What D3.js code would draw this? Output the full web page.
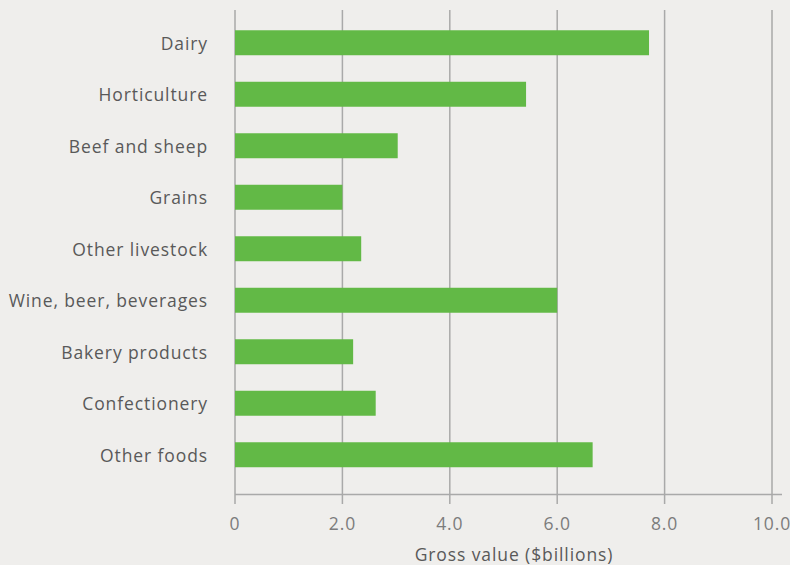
<!DOCTYPE html>
<html><head><meta charset="utf-8">
<script src="https://cdn.jsdelivr.net/npm/d3@7"></script>
<style>
html,body{margin:0;padding:0;background:#efeeec;}
svg{display:block;}
</style></head>
<body>
<svg id="chart" width="790" height="565"></svg>
<script>
const categories = ["Dairy","Horticulture","Beef and sheep","Grains","Other livestock","Wine, beer, beverages","Bakery products","Confectionery","Other foods"];
const values = [7.71, 5.42, 3.03, 2.0, 2.35, 6.0, 2.2, 2.62, 6.66];
const tickValues = [0, 2, 4, 6, 8, 10];
const tickLabels = ["0", "2.0", "4.0", "6.0", "8.0", "10.0"];
const axisTitle = "Gross value ($billions)";

const svg = d3.select("#chart");
const font = "'Open Sans', sans-serif";
const textColor = "#595959";
const x = d3.scaleLinear().domain([0, 10]).range([235, 772]);
const y = d3.scaleBand().domain(categories).range([17, 480.5]).paddingInner(0.515).paddingOuter(0.2575);

svg.append("rect").attr("width", 790).attr("height", 565).attr("fill", "#efeeec");

svg.append("g").selectAll("line").data(tickValues).join("line")
  .attr("x1", d => x(d)).attr("x2", d => x(d))
  .attr("y1", 10).attr("y2", 504)
  .attr("stroke", "#a9a9a9").attr("stroke-width", 1.5);

svg.append("line").attr("x1", x(0)).attr("x2", 782).attr("y1", 494.5).attr("y2", 494.5)
  .attr("stroke", "#a9a9a9").attr("stroke-width", 1.5);

svg.append("g").selectAll("rect").data(categories).join("rect")
  .attr("x", x(0)).attr("y", d => y(d))
  .attr("width", (d, i) => x(values[i]) - x(0))
  .attr("height", y.bandwidth())
  .attr("fill", "#62b946");

function styleText(sel) {
  return sel.attr("font-family", font).attr("font-size", 17.5).attr("font-weight", 400)
    .attr("letter-spacing", "0.9px");
}

styleText(svg.append("g").selectAll("text").data(categories).join("text")
  .attr("x", 208).attr("y", d => y(d) + y.bandwidth() / 2 + 1)
  .attr("dy", "0.35em").attr("text-anchor", "end"))
  .attr("fill", textColor).text(d => d);

styleText(svg.append("g").selectAll("text").data(tickValues).join("text")
  .attr("x", d => x(d)).attr("y", 530)
  .attr("text-anchor", "middle"))
  .attr("fill", "#7c7c7c").text((d, i) => tickLabels[i]);

styleText(svg.append("text").attr("x", 514).attr("y", 561).attr("text-anchor", "middle"))
  .attr("fill", textColor).text(axisTitle);
</script>
</body></html>
